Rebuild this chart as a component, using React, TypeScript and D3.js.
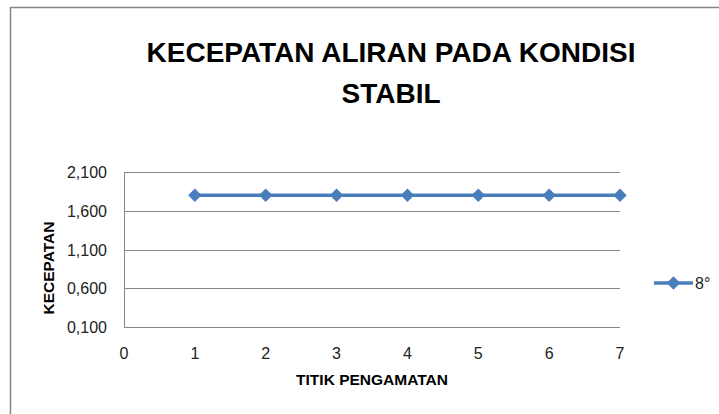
import React, { useEffect, useRef } from "react";
import * as d3 from "d3";

const points = [1, 2, 3, 4, 5, 6, 7];
const speeds = [1.8, 1.8, 1.8, 1.8, 1.8, 1.8, 1.8];
const yTicks = [0.1, 0.6, 1.1, 1.6, 2.1];
const xTicks = [0, 1, 2, 3, 4, 5, 6, 7];
const seriesName = "8°";
const titleLines = ["KECEPATAN ALIRAN PADA KONDISI", "STABIL"];

const W = 719;
const H = 414;
const blue = "#4a7ebb";
const font = "'Liberation Sans', Arial, sans-serif";

const App = () => {
  const svgRef = useRef<SVGSVGElement>(null);

  useEffect(() => {
    const svg = d3.select(svgRef.current);
    svg.selectAll("*").remove();

    const plot = { left: 124, right: 620, top: 172, bottom: 327 };

    const x = d3.scaleLinear().domain([0, 7]).range([plot.left, plot.right]);
    const y = d3.scaleLinear().domain([0.1, 2.1]).range([plot.bottom, plot.top]);
    const fmt = (v: number) => d3.format(".3f")(v).replace(".", ",");

    // chart border
    svg
      .append("rect")
      .attr("x", 10.5)
      .attr("y", 7.5)
      .attr("width", W + 10)
      .attr("height", H + 10)
      .attr("fill", "white")
      .attr("stroke", "#868686")
      .attr("stroke-width", 1.5);

    // title
    svg
      .append("g")
      .selectAll("text")
      .data(titleLines)
      .enter()
      .append("text")
      .attr("x", 391)
      .attr("y", (d, i) => 62 + i * 41)
      .attr("text-anchor", "middle")
      .attr("font-family", font)
      .attr("font-weight", "bold")
      .attr("font-size", 28)
      .attr("fill", "black")
      .text((d) => d);

    // gridlines
    svg
      .append("g")
      .selectAll("line")
      .data(yTicks)
      .enter()
      .append("line")
      .attr("x1", plot.left)
      .attr("x2", plot.right)
      .attr("y1", (d) => Math.round(y(d)) + 0.5)
      .attr("y2", (d) => Math.round(y(d)) + 0.5)
      .attr("stroke", "#868686")
      .attr("stroke-width", 1);

    // left axis line
    svg
      .append("line")
      .attr("x1", plot.left + 0.5)
      .attr("x2", plot.left + 0.5)
      .attr("y1", plot.top)
      .attr("y2", plot.bottom)
      .attr("stroke", "#868686");

    // y tick labels
    svg
      .append("g")
      .selectAll("text")
      .data(yTicks)
      .enter()
      .append("text")
      .attr("x", 107)
      .attr("y", (d) => y(d) + 6)
      .attr("text-anchor", "end")
      .attr("font-family", font)
      .attr("font-size", 16)
      .attr("fill", "#222")
      .text((d) => fmt(d));

    // x tick labels
    svg
      .append("g")
      .selectAll("text")
      .data(xTicks)
      .enter()
      .append("text")
      .attr("x", (d) => x(d))
      .attr("y", 359)
      .attr("text-anchor", "middle")
      .attr("font-family", font)
      .attr("font-size", 16)
      .attr("fill", "#222")
      .text((d) => d);

    // axis titles
    svg
      .append("text")
      .attr("transform", `translate(54,268) rotate(-90)`)
      .attr("text-anchor", "middle")
      .attr("font-family", font)
      .attr("font-weight", "bold")
      .attr("font-size", 15.5)
      .text("KECEPATAN");

    svg
      .append("text")
      .attr("x", 372)
      .attr("y", 385)
      .attr("text-anchor", "middle")
      .attr("font-family", font)
      .attr("font-weight", "bold")
      .attr("font-size", 15.5)
      .text("TITIK PENGAMATAN");

    // series line
    const data = points.map((p, i) => ({ p, v: speeds[i] }));
    const line = d3
      .line<{ p: number; v: number }>()
      .x((d) => x(d.p))
      .y((d) => y(d.v));

    svg
      .append("path")
      .datum(data)
      .attr("d", line)
      .attr("fill", "none")
      .attr("stroke", blue)
      .attr("stroke-width", 3.5);

    const diamond = d3.symbol().type(d3.symbolDiamond2).size(115);

    svg
      .append("g")
      .selectAll("path")
      .data(data)
      .enter()
      .append("path")
      .attr("d", diamond)
      .attr("transform", (d) => `translate(${x(d.p)},${y(d.v)})`)
      .attr("fill", blue);

    // legend
    const lg = svg.append("g").attr("transform", "translate(654,283)");
    lg.append("line")
      .attr("x1", 0)
      .attr("x2", 39)
      .attr("stroke", blue)
      .attr("stroke-width", 3.5);
    lg.append("path")
      .attr("d", diamond)
      .attr("transform", "translate(19.5,0)")
      .attr("fill", blue);
    lg.append("text")
      .attr("x", 41)
      .attr("y", 6)
      .attr("font-family", font)
      .attr("font-size", 16)
      .attr("fill", "#222")
      .text(seriesName);
  }, []);

  return (
    <svg
      ref={svgRef}
      width={W}
      height={H}
      style={{ position: "absolute", left: 0, top: 0, background: "white" }}
    />
  );
};

export default App;
